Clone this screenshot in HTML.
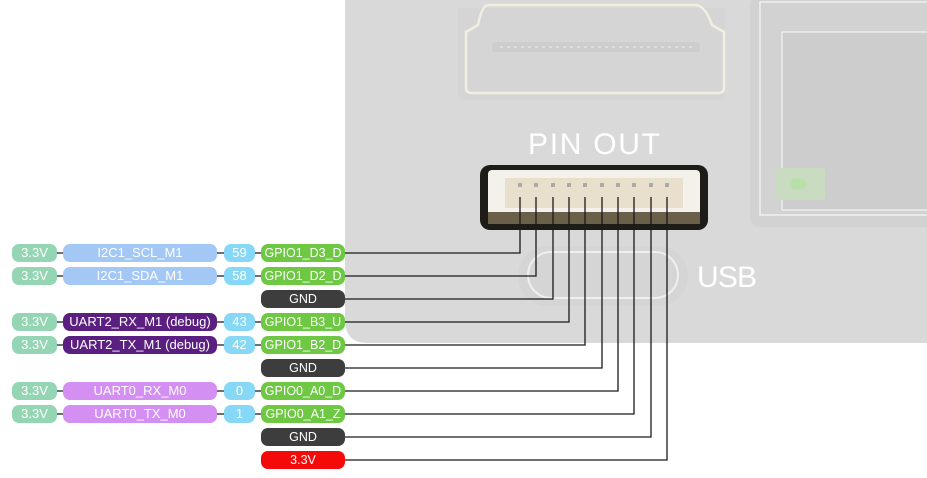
<!DOCTYPE html>
<html><head><meta charset="utf-8"><style>
html,body{margin:0;padding:0;width:927px;height:478px;background:#fff;overflow:hidden;font-family:"Liberation Sans",sans-serif}
.p{position:absolute;height:18px;border-radius:7px;color:#fff;font-size:13px;line-height:18px;text-align:center;white-space:nowrap}
.v{left:12px;width:45px;background:#94d6b4}
.n{left:63px;width:154px}
.num{left:224px;width:31px;background:#86d8f6;font-size:13px}
.g{left:261px;width:84px;background:#6ec843;font-size:12.5px}
.gnd{background:#3d3d3d}
</style></head><body>
<svg width="927" height="478" style="position:absolute;left:0;top:0">
 <path d="M345 0 H927 V343 H368 Q345 343 345 320 Z" fill="#d9d9d9"/>
 <!-- HDMI -->
 <path d="M458 8 H725 V95 Q725 100 718 100 H464 Q458 100 458 94 Z" fill="#d5d5d5"/>
 <path d="M488 5 H695 Q705 5 712 25 L724 32 V88 Q724 93 718 93 H472 Q466 93 466 88 V32 L478 25 Q482 5 488 5 Z" fill="none" stroke="#f2eee2" stroke-width="2.5"/>
 <rect x="492" y="42" width="208" height="10" rx="3" fill="#cdcdcd"/>
 <line x1="500" y1="47" x2="692" y2="47" stroke="#eee" stroke-dasharray="3 4"/>
 <!-- Ethernet -->
 <rect x="750" y="-5" width="190" height="232" rx="10" fill="#d2d2d2"/>
 <rect x="760" y="2" width="180" height="213" fill="none" stroke="#efefef" stroke-width="1.5"/>
 <rect x="782" y="32" width="160" height="178" fill="#cdcdcd" stroke="#ececec" stroke-width="1.5"/>
 <rect x="775" y="168" width="50" height="32" rx="3" fill="#c9dcc2"/>
 <ellipse cx="798" cy="184" rx="9" ry="6" fill="#b8e0a8"/>
 <!-- USB-C -->
 <rect x="518" y="246" width="170" height="60" rx="30" fill="#d5d5d5"/>
 <rect x="528" y="252" width="150" height="46" rx="23" fill="none" stroke="#efefef" stroke-width="2"/>
 <text x="697" y="287" font-family="Liberation Sans,sans-serif" font-size="30" fill="#fff" textLength="60">USB</text>
 <text x="528" y="154" font-family="Liberation Sans,sans-serif" font-size="30" fill="#fff" textLength="132">PIN OUT</text>
 <!-- connector -->
 <rect x="480" y="165" width="228" height="65" rx="10" fill="#1e1c18"/>
 <rect x="488" y="170" width="212" height="50" rx="4" fill="#f4f0ea"/>
 <rect x="505" y="178" width="178" height="30" fill="#e9dfcd"/>
 <rect x="488" y="212" width="212" height="12" fill="#6a5f48"/>
 <g fill="#aaa">
  <rect x="518" y="183" width="4" height="4"/><rect x="534" y="183" width="4" height="4"/><rect x="551" y="183" width="4" height="4"/><rect x="567" y="183" width="4" height="4"/><rect x="583" y="183" width="4" height="4"/><rect x="600" y="183" width="4" height="4"/><rect x="616" y="183" width="4" height="4"/><rect x="632" y="183" width="4" height="4"/><rect x="649" y="183" width="4" height="4"/><rect x="665" y="183" width="4" height="4"/>
 </g>
 <g fill="none" stroke="#1a1a1a" stroke-width="1.3">
  <path d="M345 253 H520 V197"/>
  <path d="M345 276 H536 V197"/>
  <path d="M345 299 H553 V197"/>
  <path d="M345 322 H569 V197"/>
  <path d="M345 345 H585 V197"/>
  <path d="M345 368 H602 V197"/>
  <path d="M345 391 H618 V197"/>
  <path d="M345 414 H634 V197"/>
  <path d="M345 437 H651 V197"/>
  <path d="M345 460 H667 V197"/>
  <path d="M57 253 H63 M217 253 H224 M255 253 H261"/>
  <path d="M57 276 H63 M217 276 H224 M255 276 H261"/>
  <path d="M57 322 H63 M217 322 H224 M255 322 H261"/>
  <path d="M57 345 H63 M217 345 H224 M255 345 H261"/>
  <path d="M57 391 H63 M217 391 H224 M255 391 H261"/>
  <path d="M57 414 H63 M217 414 H224 M255 414 H261"/>
 </g>
</svg>
<div class="p v" style="top:244px">3.3V</div><div class="p n" style="top:244px;background:#a4c8f6">I2C1_SCL_M1</div><div class="p num" style="top:244px">59</div><div class="p g" style="top:244px">GPIO1_D3_D</div>
<div class="p v" style="top:267px">3.3V</div><div class="p n" style="top:267px;background:#a4c8f6">I2C1_SDA_M1</div><div class="p num" style="top:267px">58</div><div class="p g" style="top:267px">GPIO1_D2_D</div>
<div class="p g gnd" style="top:290px">GND</div>
<div class="p v" style="top:313px">3.3V</div><div class="p n" style="top:313px;background:#5a1f80">UART2_RX_M1 (debug)</div><div class="p num" style="top:313px">43</div><div class="p g" style="top:313px">GPIO1_B3_U</div>
<div class="p v" style="top:336px">3.3V</div><div class="p n" style="top:336px;background:#5a1f80">UART2_TX_M1 (debug)</div><div class="p num" style="top:336px">42</div><div class="p g" style="top:336px">GPIO1_B2_D</div>
<div class="p g gnd" style="top:359px">GND</div>
<div class="p v" style="top:382px">3.3V</div><div class="p n" style="top:382px;background:#d390f2">UART0_RX_M0</div><div class="p num" style="top:382px">0</div><div class="p g" style="top:382px">GPIO0_A0_D</div>
<div class="p v" style="top:405px">3.3V</div><div class="p n" style="top:405px;background:#d390f2">UART0_TX_M0</div><div class="p num" style="top:405px">1</div><div class="p g" style="top:405px">GPIO0_A1_Z</div>
<div class="p g gnd" style="top:428px">GND</div>
<div class="p g" style="top:451px;background:#f50a0a">3.3V</div>
</body></html>
